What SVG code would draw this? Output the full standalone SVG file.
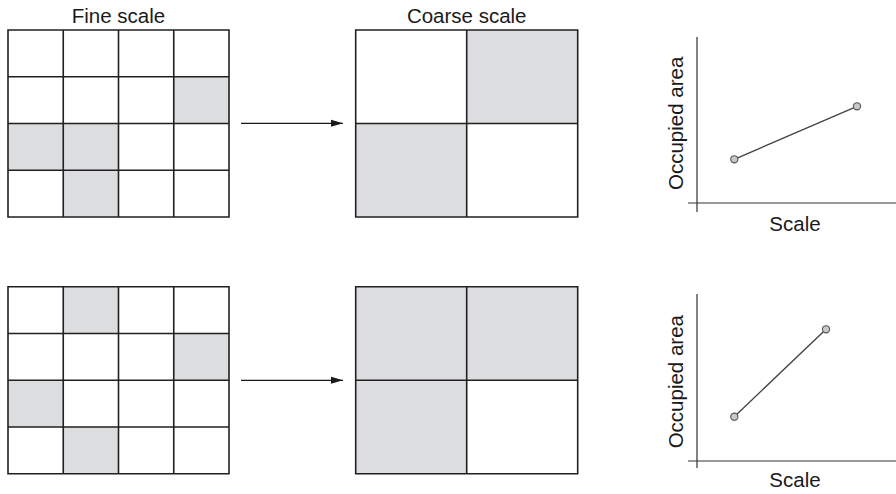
<svg xmlns="http://www.w3.org/2000/svg" width="896" height="494" viewBox="0 0 896 494">
<style>
text{font-family:"Liberation Sans",Arial,sans-serif;fill:#1a1a1a}
.t{font-size:20.5px;text-anchor:middle}
.g{fill:#dcdddf}
.ln{fill:none;stroke:#231f20;stroke-width:1.6}
.ax{stroke:#333;stroke-width:1.2;fill:none}
.pl{stroke:#444;stroke-width:1.4;fill:none}
.pt{fill:#c8c8c8;stroke:#555;stroke-width:1.1}
.arr{stroke:#1a1a1a;stroke-width:1.2;fill:none;marker-end:url(#ah)}
</style>
<defs>
<marker id="ah" markerWidth="12" markerHeight="8" refX="12" refY="4" orient="auto" markerUnits="userSpaceOnUse">
<path d="M0,0.5 L12,4 L0,7.5 Z" fill="#1a1a1a"/>
</marker>
</defs>

<g id="fine-top">
<text class="t" x="118.5" y="23">Fine scale</text>
<rect x="8" y="30" width="221" height="187" fill="#fff"/>
<rect class="g" x="173.75" y="76.75" width="55.25" height="46.75"/>
<rect class="g" x="8" y="123.5" width="110.5" height="46.75"/>
<rect class="g" x="63.25" y="170.25" width="55.25" height="46.75"/>
<path class="ln" d="M8,30H229V217H8Z M63.25,30V217 M118.5,30V217 M173.75,30V217 M8,76.75H229 M8,123.5H229 M8,170.25H229"/>
</g>

<g id="coarse-top">
<text class="t" x="466.7" y="23">Coarse scale</text>
<rect x="355.7" y="30" width="222" height="187" fill="#fff"/>
<rect class="g" x="466.7" y="30" width="111" height="93.5"/>
<rect class="g" x="355.7" y="123.5" width="111" height="93.5"/>
<path class="ln" d="M355.7,30H577.7V217H355.7Z M466.7,30V217 M355.7,123.5H577.7"/>
</g>

<g id="plot-top">
<path class="ax" d="M697,37V212 M688,203H896"/>
<line class="pl" x1="734.3" y1="159.3" x2="857" y2="106.3"/>
<circle class="pt" cx="734.3" cy="159.3" r="3.6"/>
<circle class="pt" cx="857" cy="106.3" r="3.6"/>
<text class="t" x="795" y="231">Scale</text>
<text class="t" transform="translate(682.5,123.3) rotate(-90)">Occupied area</text>
</g>

<g id="fine-bottom">
<rect x="8" y="286.7" width="221" height="187" fill="#fff"/>
<rect class="g" x="63.25" y="286.7" width="55.25" height="46.75"/>
<rect class="g" x="173.75" y="333.45" width="55.25" height="46.75"/>
<rect class="g" x="8" y="380.2" width="55.25" height="46.75"/>
<rect class="g" x="63.25" y="426.95" width="55.25" height="46.75"/>
<path class="ln" d="M8,286.7H229V473.7H8Z M63.25,286.7V473.7 M118.5,286.7V473.7 M173.75,286.7V473.7 M8,333.45H229 M8,380.2H229 M8,426.95H229"/>
</g>

<g id="coarse-bottom">
<rect x="355.7" y="286.7" width="222" height="187" fill="#fff"/>
<rect class="g" x="355.7" y="286.7" width="222" height="93.5"/>
<rect class="g" x="355.7" y="380.2" width="111" height="93.5"/>
<path class="ln" d="M355.7,286.7H577.7V473.7H355.7Z M466.7,286.7V473.7 M355.7,380.2H577.7"/>
</g>

<g id="plot-bottom">
<path class="ax" d="M697,294V468 M688,461H896"/>
<line class="pl" x1="734.3" y1="416.7" x2="826" y2="329.3"/>
<circle class="pt" cx="734.3" cy="416.7" r="3.6"/>
<circle class="pt" cx="826" cy="329.3" r="3.6"/>
<text class="t" x="795" y="487.3">Scale</text>
<text class="t" transform="translate(682.5,381.7) rotate(-90)">Occupied area</text>
</g>

<g id="connectors">
<line class="arr" x1="241" y1="123.3" x2="343" y2="123.3"/>
<line class="arr" x1="241" y1="380.3" x2="343" y2="380.3"/>
</g>
</svg>
